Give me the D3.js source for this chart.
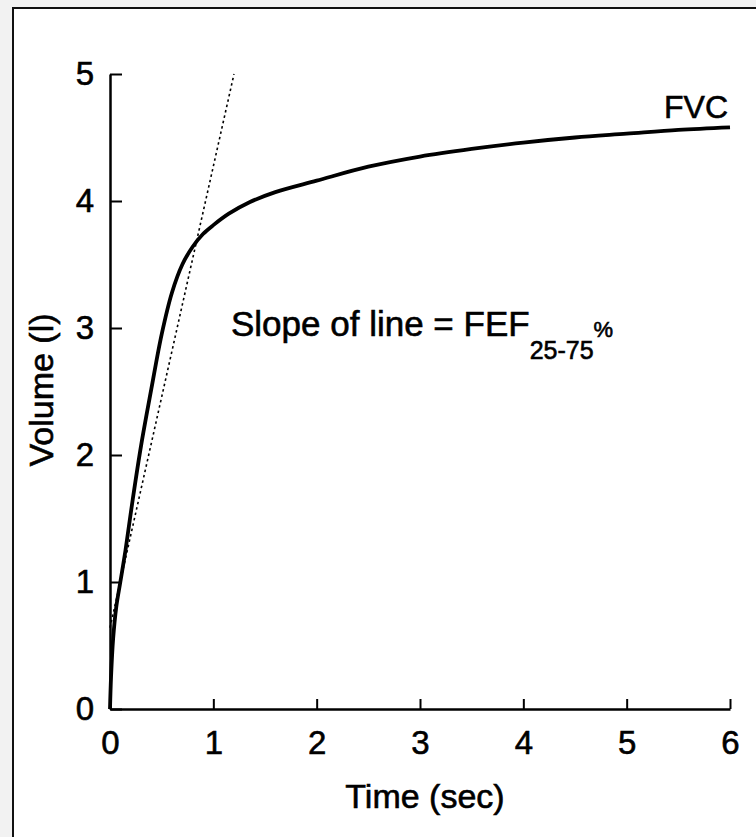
<!DOCTYPE html>
<html>
<head>
<meta charset="utf-8">
<script src="https://cdn.jsdelivr.net/npm/d3@7"></script>
<style>
  html, body { margin: 0; padding: 0; background: #f2f2f2; }
  svg { display: block; }
  text { font-family: "Liberation Sans", Arial, Helvetica, sans-serif; fill: #000; }
</style>
</head>
<body>
<script>
// ---- data ----
const timeTicks = [0, 1, 2, 3, 4, 5, 6];
const volumeTicks = [0, 1, 2, 3, 4, 5];
const curveTime   = [0, 0.01, 0.03, 0.06, 0.10, 0.15, 0.22, 0.30, 0.40, 0.50, 0.60, 0.70, 0.80, 0.90, 1.00, 1.15, 1.35, 1.60, 2.0, 2.5, 3.0, 3.5, 4.0, 4.5, 5.0, 5.5, 6.0];
const curveVolume = [0, 0.25, 0.55, 0.80, 1.00, 1.25, 1.65, 2.07, 2.52, 2.95, 3.28, 3.50, 3.64, 3.74, 3.81, 3.90, 3.99, 4.07, 4.16, 4.27, 4.35, 4.41, 4.46, 4.50, 4.53, 4.56, 4.58];
const slopeTime   = [0, 1.2];
const slopeVolume = [0.64, 5.0];

// ---- layout ----
const W = 756, H = 837;
const svg = d3.select("body").append("svg").attr("width", W).attr("height", H);

svg.append("rect").attr("x", 13).attr("y", 8).attr("width", 800).attr("height", 900)
  .attr("fill", "#fff").attr("stroke", "#111").attr("stroke-width", 2);

const x = d3.scaleLinear().domain([0, 6]).range([110, 730]);
const y = d3.scaleLinear().domain([0, 5]).range([709, 74]);

const FONT = "Liberation Sans, Arial, sans-serif";

// axes
const xAxis = d3.axisBottom(x).tickValues(timeTicks).tickSizeInner(-10).tickSizeOuter(0).tickPadding(22)
  .tickFormat(d3.format("d"));
const yAxis = d3.axisLeft(y).tickValues(volumeTicks).tickSizeInner(-12).tickSizeOuter(0).tickPadding(16)
  .tickFormat(d3.format("d"));

const gx = svg.append("g").attr("transform", `translate(0,${y(0)})`).call(xAxis);
const gy = svg.append("g").attr("transform", `translate(${x(0)},0)`).call(yAxis);
[gx, gy].forEach(g => {
  g.select(".domain").attr("stroke", "#000").attr("stroke-width", 2.5);
  g.selectAll(".tick line").attr("stroke", "#000").attr("stroke-width", 2);
  g.selectAll(".tick text").attr("font-size", 33).attr("font-family", FONT).attr("fill", "#000")
    .attr("stroke", "#000").attr("stroke-width", 0.6);
});

// slope (dotted) line
const line = d3.line().x(d => x(d[0])).y(d => y(d[1]));
svg.append("path")
  .attr("d", line(d3.zip(slopeTime, slopeVolume)))
  .attr("fill", "none").attr("stroke", "#000").attr("stroke-width", 1.6)
  .attr("stroke-dasharray", "2.5,3");

// FVC curve
const curve = d3.line().x(d => x(d[0])).y(d => y(d[1])).curve(d3.curveCatmullRom.alpha(0.5));
svg.append("path")
  .attr("d", curve(d3.zip(curveTime, curveVolume)))
  .attr("fill", "none").attr("stroke", "#000").attr("stroke-width", 3.8)
  .attr("stroke-linejoin", "round");

// labels
const strong = sel => sel.attr("stroke", "#000").attr("stroke-width", 0.6);

strong(svg.append("text").attr("x", 728).attr("y", 118).attr("text-anchor", "end")
  .attr("font-size", 32).text("FVC"));

const ann = svg.append("text").attr("x", 231).attr("y", 336).attr("font-size", 35);
strong(ann);
ann.append("tspan").text("Slope of line = FEF");
ann.append("tspan").attr("font-size", 25).attr("dy", 23).text("25-75");
ann.append("tspan").attr("font-size", 22).attr("dy", -22).text("%");

strong(svg.append("text")
  .attr("transform", `translate(53,390) rotate(-90)`)
  .attr("text-anchor", "middle").attr("font-size", 34).text("Volume (l)"));

strong(svg.append("text").attr("x", 425).attr("y", 808).attr("text-anchor", "middle")
  .attr("font-size", 34).text("Time (sec)"));
</script>
</body>
</html>
